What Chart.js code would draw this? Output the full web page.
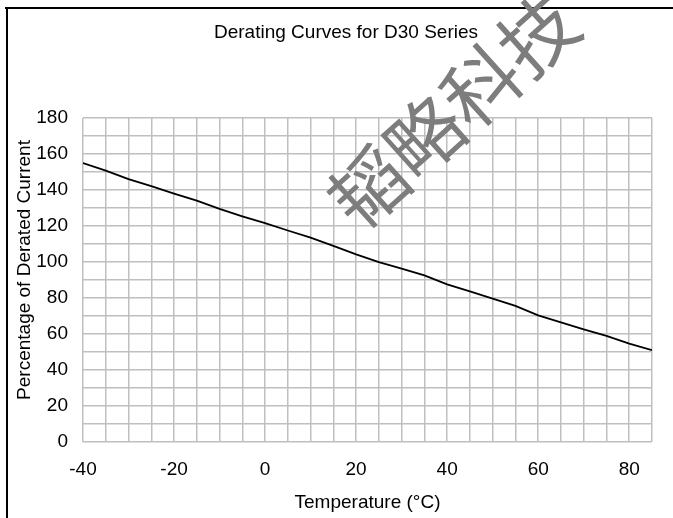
<!DOCTYPE html>
<html>
<head>
<meta charset="utf-8">
<script src="https://cdn.jsdelivr.net/npm/chart.js@4.4.1/dist/chart.umd.min.js"></script>
<style>
  html, body { margin: 0; padding: 0; background: #ffffff; }
  #wrap { width: 673px; height: 518px; position: relative; }
</style>
</head>
<body>
<div id="wrap"><canvas id="c" width="673" height="518"></canvas></div>
<script>
// ---- data ----
const chartTitle = 'Derating Curves for D30 Series';
const xAxisTitle = 'Temperature (°C)';
const yAxisTitle = 'Percentage of Derated Current';
const watermarkText = '韬略科技';
const temperatures = [-40, -35, -30, -25, -20, -15, -10, -5, 0, 5, 10, 15, 20, 25, 30, 35, 40, 45, 50, 55, 60, 65, 70, 75, 80, 85];
const deratedCurrent = [155.0, 150.8, 146.0, 142.1, 138.0, 134.1, 129.5, 125.4, 121.6, 117.5, 113.5, 109.0, 104.2, 99.9, 96.3, 92.6, 87.6, 83.7, 79.7, 75.6, 70.4, 66.4, 62.6, 58.9, 54.7, 51.0];
const xMin = -40, xMax = 85, xGridStep = 5, xLabelStep = 20;
const yMin = 0, yMax = 180, yGridStep = 10, yLabelStep = 20;

const points = temperatures.map((t, i) => ({ x: t, y: deratedCurrent[i] }));

const FONT = 'Liberation Sans, Arial, sans-serif';
const FS = 19;

const framePlugin = {
  id: 'frame',
  afterLayout(chart) {
    // center the title the way the reference does (over the full figure)
    if (chart.titleBlock) {
      chart.titleBlock.left = 40;
      chart.titleBlock.right = 652;
    }
    const ys = chart.scales.y;
    if (ys && !ys._shifted) {
      const orig = ys.drawTitle;
      ys.drawTitle = function () {
        const ctx = this.ctx;
        ctx.save();
        ctx.translate(0, -10);
        orig.apply(this, arguments);
        ctx.restore();
      };
      ys._shifted = true;
    }
  },
  afterDraw(chart) {
    const ctx = chart.ctx;
    ctx.save();
    ctx.strokeStyle = '#000000';
    ctx.lineWidth = 2;
    ctx.beginPath();
    ctx.moveTo(5, 8);
    ctx.lineTo(673, 8);
    ctx.moveTo(7, 8);
    ctx.lineTo(7, 518);
    ctx.stroke();
    // watermark
    ctx.translate(453, 111);
    ctx.rotate(-42 * Math.PI / 180);
    ctx.fillStyle = '#7d7d7d';
    ctx.font = '76px "Noto Sans CJK SC"';
    ctx.textAlign = 'center';
    ctx.textBaseline = 'middle';
    ctx.fillText(watermarkText, 0, 0);
    ctx.restore();
  }
};

new Chart(document.getElementById('c'), {
  type: 'scatter',
  data: {
    datasets: [{
      data: points,
      showLine: true,
      borderColor: '#000000',
      borderWidth: 1.8,
      pointRadius: 0,
      tension: 0,
      fill: false
    }]
  },
  options: {
    responsive: false,
    animation: false,
    devicePixelRatio: 1,
    layout: { padding: { left: 0, right: 21, top: 0, bottom: 0 } },
    plugins: {
      legend: { display: false },
      tooltip: { enabled: false },
      title: {
        display: true,
        text: chartTitle,
        color: '#000000',
        font: { family: FONT, size: FS, weight: 'normal' },
        padding: { top: 21.6, bottom: 73.6 }
      }
    },
    scales: {
      x: {
        type: 'linear',
        min: xMin,
        max: xMax,
        afterFit(scale) { scale.height = 76; },
        afterBuildTicks(scale) {
          const t = [];
          for (let v = xMin; v <= xMax; v += xGridStep) t.push({ value: v });
          scale.ticks = t;
        },
        ticks: {
          autoSkip: false,
          maxRotation: 0,
          padding: 16,
          color: '#000000',
          font: { family: FONT, size: FS },
          callback: (v) => (v % xLabelStep === 0 ? String(v) : '')
        },
        grid: { color: '#bfbfbf', lineWidth: 1.5, drawTicks: false },
        border: { display: false },
        title: {
          display: true,
          text: xAxisTitle,
          color: '#000000',
          font: { family: FONT, size: FS },
          padding: { top: 0, bottom: 3.6 }
        }
      },
      y: {
        type: 'linear',
        min: yMin,
        max: yMax,
        afterFit(scale) { scale.width = 83; },
        afterBuildTicks(scale) {
          const t = [];
          for (let v = yMin; v <= yMax; v += yGridStep) t.push({ value: v });
          scale.ticks = t;
        },
        ticks: {
          autoSkip: false,
          padding: 15,
          color: '#000000',
          font: { family: FONT, size: FS },
          callback: (v) => (v % yLabelStep === 0 ? String(v) : '')
        },
        grid: { color: '#bfbfbf', lineWidth: 1.5, drawTicks: false },
        border: { display: false },
        title: {
          display: true,
          text: yAxisTitle,
          color: '#000000',
          font: { family: FONT, size: FS },
          padding: { top: 13, bottom: 0 }
        }
      }
    }
  },
  plugins: [framePlugin]
});
</script>
</body>
</html>
